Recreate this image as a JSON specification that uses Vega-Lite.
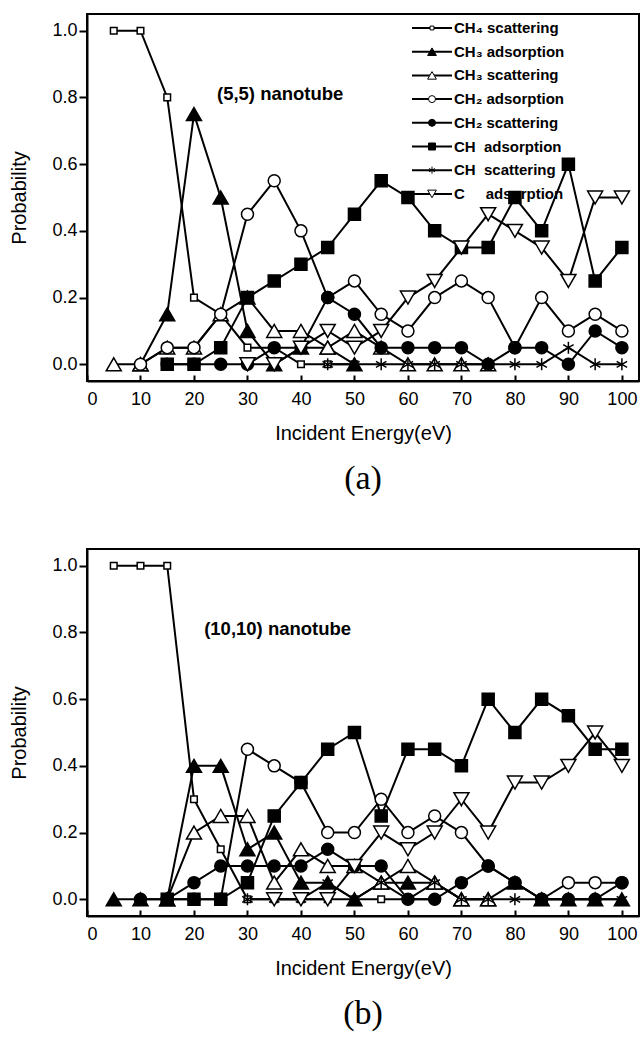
{
  "$schema": "https://vega.github.io/schema/vega-lite/v6.json",
  "padding": {"left": 8, "top": 13, "right": 0, "bottom": 0},
  "background": "white",
  "config": {
    "view": {"stroke": "black", "strokeWidth": 2},
    "axis": {"domainColor": "black", "domainWidth": 2, "tickColor": "black", "tickWidth": 2, "labelColor": "black", "titleColor": "black", "labelFont": "Liberation Sans", "titleFont": "Liberation Sans", "labelFontSize": 18, "titleFontSize": 20, "titleFontWeight": "normal", "grid": false},
    "axisX": {"tickSize": -6, "labelPadding": 15, "titlePadding": 15},
    "axisY": {"tickSize": 8, "labelPadding": 2, "titlePadding": 22},
    "concat": {"spacing": 51}
  },
  "datasets": {
    "a": [
      {"series": "CH\u2084 scattering", "energy": 5, "probability": 1},
      {"series": "CH\u2084 scattering", "energy": 10, "probability": 1},
      {"series": "CH\u2084 scattering", "energy": 15, "probability": 0.8},
      {"series": "CH\u2084 scattering", "energy": 20, "probability": 0.2},
      {"series": "CH\u2084 scattering", "energy": 25, "probability": 0.15},
      {"series": "CH\u2084 scattering", "energy": 30, "probability": 0.05},
      {"series": "CH\u2084 scattering", "energy": 35, "probability": 0.05},
      {"series": "CH\u2084 scattering", "energy": 40, "probability": 0},
      {"series": "CH\u2084 scattering", "energy": 45, "probability": 0},
      {"series": "CH\u2084 scattering", "energy": 50, "probability": 0},
      {"series": "CH\u2083 adsorption", "energy": 10, "probability": 0},
      {"series": "CH\u2083 adsorption", "energy": 15, "probability": 0.15},
      {"series": "CH\u2083 adsorption", "energy": 20, "probability": 0.75},
      {"series": "CH\u2083 adsorption", "energy": 25, "probability": 0.5},
      {"series": "CH\u2083 adsorption", "energy": 30, "probability": 0.1},
      {"series": "CH\u2083 adsorption", "energy": 35, "probability": 0},
      {"series": "CH\u2083 adsorption", "energy": 40, "probability": 0.05},
      {"series": "CH\u2083 adsorption", "energy": 45, "probability": 0.05},
      {"series": "CH\u2083 adsorption", "energy": 50, "probability": 0},
      {"series": "CH\u2083 scattering", "energy": 5, "probability": 0},
      {"series": "CH\u2083 scattering", "energy": 10, "probability": 0},
      {"series": "CH\u2083 scattering", "energy": 15, "probability": 0.05},
      {"series": "CH\u2083 scattering", "energy": 20, "probability": 0.05},
      {"series": "CH\u2083 scattering", "energy": 25, "probability": 0.15},
      {"series": "CH\u2083 scattering", "energy": 30, "probability": 0.2},
      {"series": "CH\u2083 scattering", "energy": 35, "probability": 0.1},
      {"series": "CH\u2083 scattering", "energy": 40, "probability": 0.1},
      {"series": "CH\u2083 scattering", "energy": 45, "probability": 0.05},
      {"series": "CH\u2083 scattering", "energy": 50, "probability": 0.1},
      {"series": "CH\u2083 scattering", "energy": 55, "probability": 0.05},
      {"series": "CH\u2083 scattering", "energy": 60, "probability": 0},
      {"series": "CH\u2083 scattering", "energy": 65, "probability": 0},
      {"series": "CH\u2083 scattering", "energy": 70, "probability": 0},
      {"series": "CH\u2083 scattering", "energy": 75, "probability": 0},
      {"series": "CH\u2082 adsorption", "energy": 10, "probability": 0},
      {"series": "CH\u2082 adsorption", "energy": 15, "probability": 0.05},
      {"series": "CH\u2082 adsorption", "energy": 20, "probability": 0.05},
      {"series": "CH\u2082 adsorption", "energy": 25, "probability": 0.15},
      {"series": "CH\u2082 adsorption", "energy": 30, "probability": 0.45},
      {"series": "CH\u2082 adsorption", "energy": 35, "probability": 0.55},
      {"series": "CH\u2082 adsorption", "energy": 40, "probability": 0.4},
      {"series": "CH\u2082 adsorption", "energy": 45, "probability": 0.2},
      {"series": "CH\u2082 adsorption", "energy": 50, "probability": 0.25},
      {"series": "CH\u2082 adsorption", "energy": 55, "probability": 0.15},
      {"series": "CH\u2082 adsorption", "energy": 60, "probability": 0.1},
      {"series": "CH\u2082 adsorption", "energy": 65, "probability": 0.2},
      {"series": "CH\u2082 adsorption", "energy": 70, "probability": 0.25},
      {"series": "CH\u2082 adsorption", "energy": 75, "probability": 0.2},
      {"series": "CH\u2082 adsorption", "energy": 80, "probability": 0.05},
      {"series": "CH\u2082 adsorption", "energy": 85, "probability": 0.2},
      {"series": "CH\u2082 adsorption", "energy": 90, "probability": 0.1},
      {"series": "CH\u2082 adsorption", "energy": 95, "probability": 0.15},
      {"series": "CH\u2082 adsorption", "energy": 100, "probability": 0.1},
      {"series": "CH\u2082 scattering", "energy": 15, "probability": 0},
      {"series": "CH\u2082 scattering", "energy": 20, "probability": 0},
      {"series": "CH\u2082 scattering", "energy": 25, "probability": 0},
      {"series": "CH\u2082 scattering", "energy": 30, "probability": 0},
      {"series": "CH\u2082 scattering", "energy": 35, "probability": 0.05},
      {"series": "CH\u2082 scattering", "energy": 40, "probability": 0.05},
      {"series": "CH\u2082 scattering", "energy": 45, "probability": 0.2},
      {"series": "CH\u2082 scattering", "energy": 50, "probability": 0.15},
      {"series": "CH\u2082 scattering", "energy": 55, "probability": 0.05},
      {"series": "CH\u2082 scattering", "energy": 60, "probability": 0.05},
      {"series": "CH\u2082 scattering", "energy": 65, "probability": 0.05},
      {"series": "CH\u2082 scattering", "energy": 70, "probability": 0.05},
      {"series": "CH\u2082 scattering", "energy": 75, "probability": 0},
      {"series": "CH\u2082 scattering", "energy": 80, "probability": 0.05},
      {"series": "CH\u2082 scattering", "energy": 85, "probability": 0.05},
      {"series": "CH\u2082 scattering", "energy": 90, "probability": 0},
      {"series": "CH\u2082 scattering", "energy": 95, "probability": 0.1},
      {"series": "CH\u2082 scattering", "energy": 100, "probability": 0.05},
      {"series": "CH\u00a0\u00a0adsorption", "energy": 15, "probability": 0},
      {"series": "CH\u00a0\u00a0adsorption", "energy": 20, "probability": 0},
      {"series": "CH\u00a0\u00a0adsorption", "energy": 25, "probability": 0.05},
      {"series": "CH\u00a0\u00a0adsorption", "energy": 30, "probability": 0.2},
      {"series": "CH\u00a0\u00a0adsorption", "energy": 35, "probability": 0.25},
      {"series": "CH\u00a0\u00a0adsorption", "energy": 40, "probability": 0.3},
      {"series": "CH\u00a0\u00a0adsorption", "energy": 45, "probability": 0.35},
      {"series": "CH\u00a0\u00a0adsorption", "energy": 50, "probability": 0.45},
      {"series": "CH\u00a0\u00a0adsorption", "energy": 55, "probability": 0.55},
      {"series": "CH\u00a0\u00a0adsorption", "energy": 60, "probability": 0.5},
      {"series": "CH\u00a0\u00a0adsorption", "energy": 65, "probability": 0.4},
      {"series": "CH\u00a0\u00a0adsorption", "energy": 70, "probability": 0.35},
      {"series": "CH\u00a0\u00a0adsorption", "energy": 75, "probability": 0.35},
      {"series": "CH\u00a0\u00a0adsorption", "energy": 80, "probability": 0.5},
      {"series": "CH\u00a0\u00a0adsorption", "energy": 85, "probability": 0.4},
      {"series": "CH\u00a0\u00a0adsorption", "energy": 90, "probability": 0.6},
      {"series": "CH\u00a0\u00a0adsorption", "energy": 95, "probability": 0.25},
      {"series": "CH\u00a0\u00a0adsorption", "energy": 100, "probability": 0.35},
      {"series": "CH\u00a0\u00a0scattering", "energy": 45, "probability": 0},
      {"series": "CH\u00a0\u00a0scattering", "energy": 50, "probability": 0},
      {"series": "CH\u00a0\u00a0scattering", "energy": 55, "probability": 0},
      {"series": "CH\u00a0\u00a0scattering", "energy": 60, "probability": 0},
      {"series": "CH\u00a0\u00a0scattering", "energy": 65, "probability": 0},
      {"series": "CH\u00a0\u00a0scattering", "energy": 70, "probability": 0},
      {"series": "CH\u00a0\u00a0scattering", "energy": 75, "probability": 0},
      {"series": "CH\u00a0\u00a0scattering", "energy": 80, "probability": 0},
      {"series": "CH\u00a0\u00a0scattering", "energy": 85, "probability": 0},
      {"series": "CH\u00a0\u00a0scattering", "energy": 90, "probability": 0.05},
      {"series": "CH\u00a0\u00a0scattering", "energy": 95, "probability": 0},
      {"series": "CH\u00a0\u00a0scattering", "energy": 100, "probability": 0},
      {"series": "C\u00a0\u00a0\u00a0\u00a0\u00a0adsorption", "energy": 30, "probability": 0},
      {"series": "C\u00a0\u00a0\u00a0\u00a0\u00a0adsorption", "energy": 35, "probability": 0},
      {"series": "C\u00a0\u00a0\u00a0\u00a0\u00a0adsorption", "energy": 40, "probability": 0.05},
      {"series": "C\u00a0\u00a0\u00a0\u00a0\u00a0adsorption", "energy": 45, "probability": 0.1},
      {"series": "C\u00a0\u00a0\u00a0\u00a0\u00a0adsorption", "energy": 50, "probability": 0.05},
      {"series": "C\u00a0\u00a0\u00a0\u00a0\u00a0adsorption", "energy": 55, "probability": 0.1},
      {"series": "C\u00a0\u00a0\u00a0\u00a0\u00a0adsorption", "energy": 60, "probability": 0.2},
      {"series": "C\u00a0\u00a0\u00a0\u00a0\u00a0adsorption", "energy": 65, "probability": 0.25},
      {"series": "C\u00a0\u00a0\u00a0\u00a0\u00a0adsorption", "energy": 70, "probability": 0.35},
      {"series": "C\u00a0\u00a0\u00a0\u00a0\u00a0adsorption", "energy": 75, "probability": 0.45},
      {"series": "C\u00a0\u00a0\u00a0\u00a0\u00a0adsorption", "energy": 80, "probability": 0.4},
      {"series": "C\u00a0\u00a0\u00a0\u00a0\u00a0adsorption", "energy": 85, "probability": 0.35},
      {"series": "C\u00a0\u00a0\u00a0\u00a0\u00a0adsorption", "energy": 90, "probability": 0.25},
      {"series": "C\u00a0\u00a0\u00a0\u00a0\u00a0adsorption", "energy": 95, "probability": 0.5},
      {"series": "C\u00a0\u00a0\u00a0\u00a0\u00a0adsorption", "energy": 100, "probability": 0.5}
    ],
    "b": [
      {"series": "CH\u2084 scattering", "energy": 5, "probability": 1},
      {"series": "CH\u2084 scattering", "energy": 10, "probability": 1},
      {"series": "CH\u2084 scattering", "energy": 15, "probability": 1},
      {"series": "CH\u2084 scattering", "energy": 20, "probability": 0.3},
      {"series": "CH\u2084 scattering", "energy": 25, "probability": 0.15},
      {"series": "CH\u2084 scattering", "energy": 30, "probability": 0},
      {"series": "CH\u2084 scattering", "energy": 35, "probability": 0},
      {"series": "CH\u2084 scattering", "energy": 40, "probability": 0},
      {"series": "CH\u2084 scattering", "energy": 45, "probability": 0},
      {"series": "CH\u2084 scattering", "energy": 50, "probability": 0},
      {"series": "CH\u2084 scattering", "energy": 55, "probability": 0},
      {"series": "CH\u2084 scattering", "energy": 60, "probability": 0},
      {"series": "CH\u2084 scattering", "energy": 65, "probability": 0},
      {"series": "CH\u2083 adsorption", "energy": 5, "probability": 0},
      {"series": "CH\u2083 adsorption", "energy": 10, "probability": 0},
      {"series": "CH\u2083 adsorption", "energy": 15, "probability": 0},
      {"series": "CH\u2083 adsorption", "energy": 20, "probability": 0.4},
      {"series": "CH\u2083 adsorption", "energy": 25, "probability": 0.4},
      {"series": "CH\u2083 adsorption", "energy": 30, "probability": 0.15},
      {"series": "CH\u2083 adsorption", "energy": 35, "probability": 0.2},
      {"series": "CH\u2083 adsorption", "energy": 40, "probability": 0.05},
      {"series": "CH\u2083 adsorption", "energy": 45, "probability": 0.05},
      {"series": "CH\u2083 adsorption", "energy": 50, "probability": 0},
      {"series": "CH\u2083 adsorption", "energy": 55, "probability": 0.05},
      {"series": "CH\u2083 adsorption", "energy": 60, "probability": 0.05},
      {"series": "CH\u2083 adsorption", "energy": 65, "probability": 0.05},
      {"series": "CH\u2083 adsorption", "energy": 70, "probability": 0},
      {"series": "CH\u2083 adsorption", "energy": 75, "probability": 0},
      {"series": "CH\u2083 adsorption", "energy": 80, "probability": 0.05},
      {"series": "CH\u2083 adsorption", "energy": 85, "probability": 0},
      {"series": "CH\u2083 adsorption", "energy": 90, "probability": 0},
      {"series": "CH\u2083 adsorption", "energy": 95, "probability": 0},
      {"series": "CH\u2083 adsorption", "energy": 100, "probability": 0},
      {"series": "CH\u2083 scattering", "energy": 15, "probability": 0},
      {"series": "CH\u2083 scattering", "energy": 20, "probability": 0.2},
      {"series": "CH\u2083 scattering", "energy": 25, "probability": 0.25},
      {"series": "CH\u2083 scattering", "energy": 30, "probability": 0.25},
      {"series": "CH\u2083 scattering", "energy": 35, "probability": 0.05},
      {"series": "CH\u2083 scattering", "energy": 40, "probability": 0.15},
      {"series": "CH\u2083 scattering", "energy": 45, "probability": 0.1},
      {"series": "CH\u2083 scattering", "energy": 50, "probability": 0.1},
      {"series": "CH\u2083 scattering", "energy": 55, "probability": 0.05},
      {"series": "CH\u2083 scattering", "energy": 60, "probability": 0.1},
      {"series": "CH\u2083 scattering", "energy": 65, "probability": 0.05},
      {"series": "CH\u2083 scattering", "energy": 70, "probability": 0},
      {"series": "CH\u2083 scattering", "energy": 75, "probability": 0},
      {"series": "CH\u2082 adsorption", "energy": 15, "probability": 0},
      {"series": "CH\u2082 adsorption", "energy": 20, "probability": 0},
      {"series": "CH\u2082 adsorption", "energy": 25, "probability": 0},
      {"series": "CH\u2082 adsorption", "energy": 30, "probability": 0.45},
      {"series": "CH\u2082 adsorption", "energy": 35, "probability": 0.4},
      {"series": "CH\u2082 adsorption", "energy": 40, "probability": 0.35},
      {"series": "CH\u2082 adsorption", "energy": 45, "probability": 0.2},
      {"series": "CH\u2082 adsorption", "energy": 50, "probability": 0.2},
      {"series": "CH\u2082 adsorption", "energy": 55, "probability": 0.3},
      {"series": "CH\u2082 adsorption", "energy": 60, "probability": 0.2},
      {"series": "CH\u2082 adsorption", "energy": 65, "probability": 0.25},
      {"series": "CH\u2082 adsorption", "energy": 70, "probability": 0.2},
      {"series": "CH\u2082 adsorption", "energy": 75, "probability": 0.1},
      {"series": "CH\u2082 adsorption", "energy": 80, "probability": 0.05},
      {"series": "CH\u2082 adsorption", "energy": 85, "probability": 0},
      {"series": "CH\u2082 adsorption", "energy": 90, "probability": 0.05},
      {"series": "CH\u2082 adsorption", "energy": 95, "probability": 0.05},
      {"series": "CH\u2082 adsorption", "energy": 100, "probability": 0.05},
      {"series": "CH\u2082 scattering", "energy": 10, "probability": 0},
      {"series": "CH\u2082 scattering", "energy": 15, "probability": 0},
      {"series": "CH\u2082 scattering", "energy": 20, "probability": 0.05},
      {"series": "CH\u2082 scattering", "energy": 25, "probability": 0.1},
      {"series": "CH\u2082 scattering", "energy": 30, "probability": 0.1},
      {"series": "CH\u2082 scattering", "energy": 35, "probability": 0.1},
      {"series": "CH\u2082 scattering", "energy": 40, "probability": 0.1},
      {"series": "CH\u2082 scattering", "energy": 45, "probability": 0.15},
      {"series": "CH\u2082 scattering", "energy": 50, "probability": 0.1},
      {"series": "CH\u2082 scattering", "energy": 55, "probability": 0.1},
      {"series": "CH\u2082 scattering", "energy": 60, "probability": 0},
      {"series": "CH\u2082 scattering", "energy": 65, "probability": 0},
      {"series": "CH\u2082 scattering", "energy": 70, "probability": 0.05},
      {"series": "CH\u2082 scattering", "energy": 75, "probability": 0.1},
      {"series": "CH\u2082 scattering", "energy": 80, "probability": 0.05},
      {"series": "CH\u2082 scattering", "energy": 85, "probability": 0},
      {"series": "CH\u2082 scattering", "energy": 90, "probability": 0},
      {"series": "CH\u2082 scattering", "energy": 95, "probability": 0},
      {"series": "CH\u2082 scattering", "energy": 100, "probability": 0.05},
      {"series": "CH\u00a0\u00a0adsorption", "energy": 15, "probability": 0},
      {"series": "CH\u00a0\u00a0adsorption", "energy": 20, "probability": 0},
      {"series": "CH\u00a0\u00a0adsorption", "energy": 25, "probability": 0},
      {"series": "CH\u00a0\u00a0adsorption", "energy": 30, "probability": 0.05},
      {"series": "CH\u00a0\u00a0adsorption", "energy": 35, "probability": 0.25},
      {"series": "CH\u00a0\u00a0adsorption", "energy": 40, "probability": 0.35},
      {"series": "CH\u00a0\u00a0adsorption", "energy": 45, "probability": 0.45},
      {"series": "CH\u00a0\u00a0adsorption", "energy": 50, "probability": 0.5},
      {"series": "CH\u00a0\u00a0adsorption", "energy": 55, "probability": 0.25},
      {"series": "CH\u00a0\u00a0adsorption", "energy": 60, "probability": 0.45},
      {"series": "CH\u00a0\u00a0adsorption", "energy": 65, "probability": 0.45},
      {"series": "CH\u00a0\u00a0adsorption", "energy": 70, "probability": 0.4},
      {"series": "CH\u00a0\u00a0adsorption", "energy": 75, "probability": 0.6},
      {"series": "CH\u00a0\u00a0adsorption", "energy": 80, "probability": 0.5},
      {"series": "CH\u00a0\u00a0adsorption", "energy": 85, "probability": 0.6},
      {"series": "CH\u00a0\u00a0adsorption", "energy": 90, "probability": 0.55},
      {"series": "CH\u00a0\u00a0adsorption", "energy": 95, "probability": 0.45},
      {"series": "CH\u00a0\u00a0adsorption", "energy": 100, "probability": 0.45},
      {"series": "CH\u00a0\u00a0scattering", "energy": 30, "probability": 0},
      {"series": "CH\u00a0\u00a0scattering", "energy": 35, "probability": 0},
      {"series": "CH\u00a0\u00a0scattering", "energy": 40, "probability": 0},
      {"series": "CH\u00a0\u00a0scattering", "energy": 45, "probability": 0.05},
      {"series": "CH\u00a0\u00a0scattering", "energy": 50, "probability": 0},
      {"series": "CH\u00a0\u00a0scattering", "energy": 55, "probability": 0.05},
      {"series": "CH\u00a0\u00a0scattering", "energy": 60, "probability": 0},
      {"series": "CH\u00a0\u00a0scattering", "energy": 65, "probability": 0.05},
      {"series": "CH\u00a0\u00a0scattering", "energy": 70, "probability": 0},
      {"series": "CH\u00a0\u00a0scattering", "energy": 75, "probability": 0},
      {"series": "CH\u00a0\u00a0scattering", "energy": 80, "probability": 0},
      {"series": "CH\u00a0\u00a0scattering", "energy": 85, "probability": 0},
      {"series": "CH\u00a0\u00a0scattering", "energy": 90, "probability": 0},
      {"series": "CH\u00a0\u00a0scattering", "energy": 95, "probability": 0},
      {"series": "CH\u00a0\u00a0scattering", "energy": 100, "probability": 0},
      {"series": "C\u00a0\u00a0\u00a0\u00a0\u00a0adsorption", "energy": 35, "probability": 0},
      {"series": "C\u00a0\u00a0\u00a0\u00a0\u00a0adsorption", "energy": 40, "probability": 0},
      {"series": "C\u00a0\u00a0\u00a0\u00a0\u00a0adsorption", "energy": 45, "probability": 0},
      {"series": "C\u00a0\u00a0\u00a0\u00a0\u00a0adsorption", "energy": 50, "probability": 0.1},
      {"series": "C\u00a0\u00a0\u00a0\u00a0\u00a0adsorption", "energy": 55, "probability": 0.2},
      {"series": "C\u00a0\u00a0\u00a0\u00a0\u00a0adsorption", "energy": 60, "probability": 0.15},
      {"series": "C\u00a0\u00a0\u00a0\u00a0\u00a0adsorption", "energy": 65, "probability": 0.2},
      {"series": "C\u00a0\u00a0\u00a0\u00a0\u00a0adsorption", "energy": 70, "probability": 0.3},
      {"series": "C\u00a0\u00a0\u00a0\u00a0\u00a0adsorption", "energy": 75, "probability": 0.2},
      {"series": "C\u00a0\u00a0\u00a0\u00a0\u00a0adsorption", "energy": 80, "probability": 0.35},
      {"series": "C\u00a0\u00a0\u00a0\u00a0\u00a0adsorption", "energy": 85, "probability": 0.35},
      {"series": "C\u00a0\u00a0\u00a0\u00a0\u00a0adsorption", "energy": 90, "probability": 0.4},
      {"series": "C\u00a0\u00a0\u00a0\u00a0\u00a0adsorption", "energy": 95, "probability": 0.5},
      {"series": "C\u00a0\u00a0\u00a0\u00a0\u00a0adsorption", "energy": 100, "probability": 0.4}
    ]
  },
  "vconcat": [
    {
      "width": 552,
      "height": 367,
      "data": {"name": "a"},
      "title": {"text": "(a)", "orient": "bottom", "font": "Liberation Serif", "fontSize": 34, "fontWeight": "normal", "color": "black", "offset": 19},
      "layer": [
        {
          "mark": {"type": "line", "strokeWidth": 2},
          "encoding": {
            "x": {"field": "energy", "type": "quantitative", "scale": {"domain": [0, 103.2], "nice": false}, "axis": {"title": "Incident Energy(eV)", "values": [0,5,10,15,20,25,30,35,40,45,50,55,60,65,70,75,80,85,90,95,100], "labelExpr": "datum.value % 10 === 0 ? datum.label : ''"}},
            "y": {"field": "probability", "type": "quantitative", "scale": {"domain": [-0.05, 1.05], "nice": false, "zero": false}, "axis": {"title": "Probability", "values": [0,0.1,0.2,0.3,0.4,0.5,0.6,0.7,0.8,0.9,1.0], "labelExpr": "abs(round(datum.value*10) % 2) < 0.5 ? format(datum.value, '.1f') : ''"}},
            "color": {"field": "series", "type": "nominal", "sort": null, "scale": {"range": ["black","black","black","black","black","black","black","black"]}, "legend": {"orient": "none", "legendX": 325, "legendY": 5, "title": null, "symbolType": "stroke", "symbolSize": 1600, "symbolStrokeWidth": 2, "symbolStrokeColor": "black", "labelFont": "Liberation Sans", "labelFontWeight": "bold", "labelFontSize": 15, "labelColor": "black", "labelOffset": 2, "clipHeight": 18, "rowPadding": 5.7, "padding": 0, "labelLimit": 300, "encode": {"symbols": {"update": {"x": {"value": 20}}}, "labels": {"update": {"x": {"value": 42}}}}}}
          }
        },
        {
          "mark": {"type": "point", "filled": true, "stroke": "black", "strokeWidth": 1.5, "size": 144, "opacity": 1},
          "encoding": {
            "x": {"field": "energy", "type": "quantitative"},
            "y": {"field": "probability", "type": "quantitative"},
            "shape": {"field": "series", "type": "nominal", "scale": {"domain": ["CH\u2084 scattering","CH\u2083 adsorption","CH\u2083 scattering","CH\u2082 adsorption","CH\u2082 scattering","CH\u00a0\u00a0adsorption","CH\u00a0\u00a0scattering","C\u00a0\u00a0\u00a0\u00a0\u00a0adsorption"], "range": ["M-0.55,-0.55H0.55V0.55H-0.55Z","M0,-1.08L1.25,1.08L-1.25,1.08Z","M0,-1.08L1.25,1.08L-1.25,1.08Z","circle","circle","square","M0,-1L0,1M-0.87,-0.5L0.87,0.5M-0.87,0.5L0.87,-0.5","M0,1.08L1.25,-1.08L-1.25,-1.08Z"]}, "legend": {"orient": "none", "legendX": 325, "legendY": 5, "title": null, "symbolSize": 49, "symbolStrokeWidth": 1, "symbolStrokeColor": "black", "symbolOpacity": 1, "labelExpr": "''", "labelOffset": 40, "labelFontSize": 15, "clipHeight": 18, "rowPadding": 5.7, "padding": 0, "encode": {"symbols": {"update": {"x": {"value": 20}, "stroke": {"value": "black"}, "strokeWidth": {"value": 1}}}}}},
            "fill": {"field": "series", "type": "nominal", "scale": {"domain": ["CH\u2084 scattering","CH\u2083 adsorption","CH\u2083 scattering","CH\u2082 adsorption","CH\u2082 scattering","CH\u00a0\u00a0adsorption","CH\u00a0\u00a0scattering","C\u00a0\u00a0\u00a0\u00a0\u00a0adsorption"], "range": ["white","black","white","white","black","black","black","white"]}, "legend": {"orient": "none", "legendX": 325, "legendY": 5, "title": null, "symbolSize": 49, "symbolStrokeWidth": 1, "symbolStrokeColor": "black", "symbolOpacity": 1, "labelExpr": "''", "labelOffset": 40, "labelFontSize": 15, "clipHeight": 18, "rowPadding": 5.7, "padding": 0, "encode": {"symbols": {"update": {"x": {"value": 20}, "stroke": {"value": "black"}, "strokeWidth": {"value": 1}}}}}}
          }
        },
        {
          "data": {"values": [{}]},
          "mark": {"type": "text", "font": "Liberation Sans", "fontWeight": "bold", "fontSize": 18.5, "align": "left", "baseline": "middle", "color": "black"},
          "encoding": {
            "x": {"datum": 24.3, "type": "quantitative"},
            "y": {"datum": 0.81, "type": "quantitative"},
            "text": {"value": "(5,5) nanotube"}
          }
        }
      ]
    },
    {
      "width": 552,
      "height": 367,
      "data": {"name": "b"},
      "title": {"text": "(b)", "orient": "bottom", "font": "Liberation Serif", "fontSize": 34, "fontWeight": "normal", "color": "black", "offset": 19},
      "layer": [
        {
          "mark": {"type": "line", "strokeWidth": 2},
          "encoding": {
            "x": {"field": "energy", "type": "quantitative", "scale": {"domain": [0, 103.2], "nice": false}, "axis": {"title": "Incident Energy(eV)", "values": [0,5,10,15,20,25,30,35,40,45,50,55,60,65,70,75,80,85,90,95,100], "labelExpr": "datum.value % 10 === 0 ? datum.label : ''"}},
            "y": {"field": "probability", "type": "quantitative", "scale": {"domain": [-0.05, 1.05], "nice": false, "zero": false}, "axis": {"title": "Probability", "values": [0,0.1,0.2,0.3,0.4,0.5,0.6,0.7,0.8,0.9,1.0], "labelExpr": "abs(round(datum.value*10) % 2) < 0.5 ? format(datum.value, '.1f') : ''"}},
            "color": {"field": "series", "type": "nominal", "sort": null, "scale": {"range": ["black","black","black","black","black","black","black","black"]}, "legend": {"orient": "none", "legendX": 302, "legendY": 6, "title": null, "symbolType": "stroke", "symbolSize": 1600, "symbolStrokeWidth": 2, "symbolStrokeColor": "black", "labelFont": "Liberation Sans", "labelFontWeight": "bold", "labelFontSize": 15, "labelColor": "black", "labelOffset": 2, "clipHeight": 18, "rowPadding": 5.6, "padding": 0, "labelLimit": 300, "encode": {"symbols": {"update": {"x": {"value": 20}}}, "labels": {"update": {"x": {"value": 42}}}}}}
          }
        },
        {
          "mark": {"type": "point", "filled": true, "stroke": "black", "strokeWidth": 1.5, "size": 144, "opacity": 1},
          "encoding": {
            "x": {"field": "energy", "type": "quantitative"},
            "y": {"field": "probability", "type": "quantitative"},
            "shape": {"field": "series", "type": "nominal", "scale": {"domain": ["CH\u2084 scattering","CH\u2083 adsorption","CH\u2083 scattering","CH\u2082 adsorption","CH\u2082 scattering","CH\u00a0\u00a0adsorption","CH\u00a0\u00a0scattering","C\u00a0\u00a0\u00a0\u00a0\u00a0adsorption"], "range": ["M-0.8,-0.8H0.8V0.8H-0.8Z","M0,-1.08L1.25,1.08L-1.25,1.08Z","M0,-1.08L1.25,1.08L-1.25,1.08Z","circle","circle","square","M0,-1L0,1M-0.87,-0.5L0.87,0.5M-0.87,0.5L0.87,-0.5","M0,1.08L1.25,-1.08L-1.25,-1.08Z"]}, "legend": {"orient": "none", "legendX": 302, "legendY": 6, "title": null, "symbolSize": 49, "symbolStrokeWidth": 1, "symbolStrokeColor": "black", "symbolOpacity": 1, "labelExpr": "''", "labelOffset": 40, "labelFontSize": 15, "clipHeight": 18, "rowPadding": 5.6, "padding": 0, "encode": {"symbols": {"update": {"x": {"value": 20}, "stroke": {"value": "black"}, "strokeWidth": {"value": 1}}}}}},
            "fill": {"field": "series", "type": "nominal", "scale": {"domain": ["CH\u2084 scattering","CH\u2083 adsorption","CH\u2083 scattering","CH\u2082 adsorption","CH\u2082 scattering","CH\u00a0\u00a0adsorption","CH\u00a0\u00a0scattering","C\u00a0\u00a0\u00a0\u00a0\u00a0adsorption"], "range": ["white","black","white","white","black","black","black","white"]}, "legend": {"orient": "none", "legendX": 302, "legendY": 6, "title": null, "symbolSize": 49, "symbolStrokeWidth": 1, "symbolStrokeColor": "black", "symbolOpacity": 1, "labelExpr": "''", "labelOffset": 40, "labelFontSize": 15, "clipHeight": 18, "rowPadding": 5.6, "padding": 0, "encode": {"symbols": {"update": {"x": {"value": 20}, "stroke": {"value": "black"}, "strokeWidth": {"value": 1}}}}}}
          }
        },
        {
          "data": {"values": [{}]},
          "mark": {"type": "text", "font": "Liberation Sans", "fontWeight": "bold", "fontSize": 18.5, "align": "left", "baseline": "middle", "color": "black"},
          "encoding": {
            "x": {"datum": 21.9, "type": "quantitative"},
            "y": {"datum": 0.81, "type": "quantitative"},
            "text": {"value": "(10,10) nanotube"}
          }
        }
      ]
    }
  ]
}
